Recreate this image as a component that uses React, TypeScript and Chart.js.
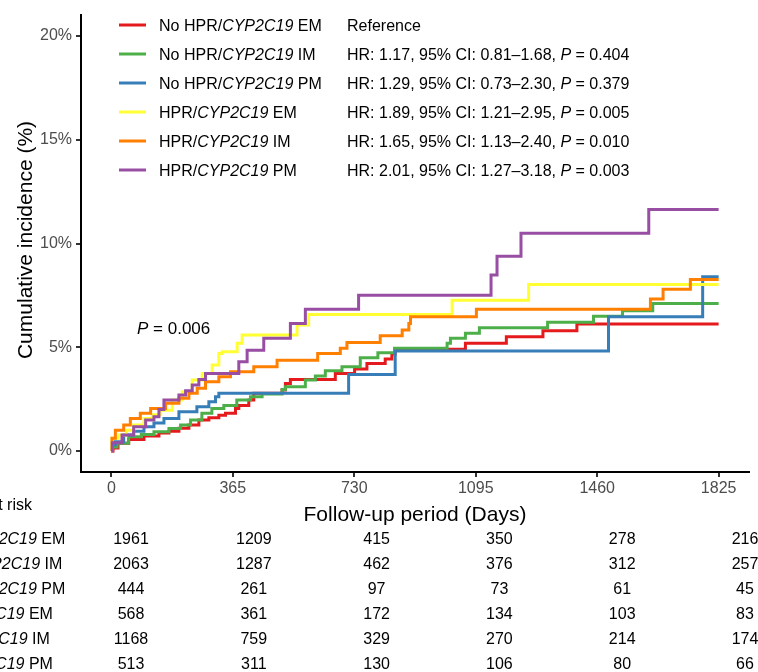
import React, { useEffect, useRef } from 'react';
import { Chart, registerables } from 'chart.js';

Chart.register(...registerables);

// ---------- data ----------
const groupNames = [
  'No HPR/CYP2C19 EM',
  'No HPR/CYP2C19 IM',
  'No HPR/CYP2C19 PM',
  'HPR/CYP2C19 EM',
  'HPR/CYP2C19 IM',
  'HPR/CYP2C19 PM',
];
const groupStats = [
  'Reference',
  'HR: 1.17, 95% CI: 0.81–1.68, P = 0.404',
  'HR: 1.29, 95% CI: 0.73–2.30, P = 0.379',
  'HR: 1.89, 95% CI: 1.21–2.95, P = 0.005',
  'HR: 1.65, 95% CI: 1.13–2.40, P = 0.010',
  'HR: 2.01, 95% CI: 1.27–3.18, P = 0.003',
];
const groupColors = ['#E41A1C', '#4DAF4A', '#377EB8', '#FFFF33', '#FF7F00', '#984EA3'];

const redDays = [0, 5, 20, 52, 98, 143, 173, 203, 233, 263, 293, 323, 343, 373, 383, 413, 428, 513, 523, 538, 673, 731, 768, 823, 843, 853, 1064, 1187, 1297, 1399, 1825];
const redPct = [0, 0.15, 0.38, 0.55, 0.72, 0.87, 0.95, 1.1, 1.25, 1.49, 1.6, 1.72, 1.82, 2.05, 2.2, 2.46, 2.78, 2.94, 3.26, 3.45, 3.74, 3.95, 4.22, 4.43, 4.67, 4.9, 5.19, 5.51, 5.8, 6.12, 6.12];

const greenDays = [0, 3, 17, 52, 90, 128, 173, 208, 238, 272, 302, 338, 377, 418, 453, 513, 523, 583, 613, 643, 693, 748, 801, 851, 1009, 1019, 1064, 1106, 1311, 1449, 1536, 1627, 1825];
const greenPct = [0, 0.2, 0.38, 0.69, 0.8, 0.93, 1.09, 1.25, 1.49, 1.82, 2.05, 2.2, 2.46, 2.62, 2.75, 2.97, 3.1, 3.42, 3.61, 3.87, 4.06, 4.5, 4.74, 4.95, 5.19, 5.43, 5.67, 5.94, 6.2, 6.5, 6.76, 7.11, 7.11];

const blueDays = [0, 3, 12, 37, 67, 98, 128, 158, 203, 257, 293, 313, 323, 713, 853, 1494, 1777, 1825];
const bluePct = [0, 0.3, 0.45, 0.77, 0.95, 1.17, 1.35, 1.57, 1.89, 2.13, 2.38, 2.62, 2.78, 3.69, 4.82, 6.47, 8.4, 8.4];

const yellowDays = [0, 2, 22, 45, 67, 98, 123, 148, 183, 213, 243, 273, 303, 323, 333, 378, 393, 558, 593, 1024, 1254, 1825];
const yellowPct = [0, 0.62, 0.77, 1.0, 1.25, 1.57, 1.75, 1.97, 2.46, 2.86, 3.42, 3.74, 4.14, 4.7, 4.78, 5.19, 5.59, 6.07, 6.58, 7.27, 8.03, 8.03];

const orangeDays = [0, 2, 12, 37, 57, 87, 118, 163, 203, 233, 258, 283, 323, 358, 428, 498, 620, 688, 708, 808, 874, 894, 899, 1097, 1620, 1658, 1740, 1825];
const orangePct = [0, 0.62, 1.0, 1.25, 1.57, 1.82, 2.05, 2.3, 2.54, 2.78, 3.02, 3.34, 3.58, 3.82, 4.06, 4.38, 4.7, 4.95, 5.23, 5.56, 5.83, 6.15, 6.47, 6.83, 7.32, 7.8, 8.27, 8.27];

const purpleDays = [0, 3, 32, 67, 103, 128, 143, 158, 203, 223, 243, 263, 283, 383, 408, 458, 538, 583, 743, 1141, 1159, 1231, 1615, 1825];
const purplePct = [0, 0.4, 0.77, 1.17, 1.49, 1.65, 2.0, 2.46, 2.7, 2.9, 3.18, 3.45, 3.74, 4.3, 4.86, 5.43, 6.15, 6.83, 7.51, 8.48, 9.39, 10.49, 11.64, 11.64];

const seriesDays = [redDays, greenDays, blueDays, yellowDays, orangeDays, purpleDays];
const seriesPct = [redPct, greenPct, bluePct, yellowPct, orangePct, purplePct];

const xTicks = [0, 365, 730, 1095, 1460, 1825];
const yTicks = [0, 5, 10, 15, 20];

const riskNoHprEM = [1961, 1209, 415, 350, 278, 216];
const riskNoHprIM = [2063, 1287, 462, 376, 312, 257];
const riskNoHprPM = [444, 261, 97, 73, 61, 45];
const riskHprEM = [568, 361, 172, 134, 103, 83];
const riskHprIM = [1168, 759, 329, 270, 214, 174];
const riskHprPM = [513, 311, 130, 106, 80, 66];
const riskRows = [riskNoHprEM, riskNoHprIM, riskNoHprPM, riskHprEM, riskHprIM, riskHprPM];

const pValueText = 'P = 0.006';
const xTitle = 'Follow-up period (Days)';
const yTitle = 'Cumulative incidence (%)';
const riskTitle = 'Number at risk';

// ---------- text helpers ----------
const FAMILY = '"Liberation Sans", Arial, Helvetica, sans-serif';
const fontStr = (size: number, italic: boolean) => `${italic ? 'italic ' : ''}${size}px ${FAMILY}`;

function segs(s: string): [string, boolean][] {
  const out: [string, boolean][] = [];
  const re = /(CYP2C19|P(?= =))/g;
  let last = 0;
  let m: RegExpExecArray | null;
  while ((m = re.exec(s))) {
    if (m.index > last) out.push([s.slice(last, m.index), false]);
    out.push([m[0], true]);
    last = m.index + m[0].length;
  }
  if (last < s.length) out.push([s.slice(last), false]);
  return out;
}

function drawRich(ctx: CanvasRenderingContext2D, s: string, x: number, y: number, size: number, align: string, color: string) {
  const parts = segs(s);
  let w = 0;
  for (const [t, it] of parts) {
    ctx.font = fontStr(size, it);
    w += ctx.measureText(t).width;
  }
  let cx = align === 'center' ? x - w / 2 : align === 'right' ? x - w : x;
  ctx.fillStyle = color;
  ctx.textAlign = 'left';
  ctx.textBaseline = 'alphabetic';
  for (const [t, it] of parts) {
    ctx.font = fontStr(size, it);
    ctx.fillText(t, cx, y);
    cx += ctx.measureText(t).width;
  }
}

const decorPlugin = {
  id: 'decor',
  afterDraw(chart: any) {
    const ctx: CanvasRenderingContext2D = chart.ctx;
    const area = chart.chartArea;
    ctx.save();
    // legend
    groupNames.forEach((name, i) => {
      const yc = 25 + 29 * i;
      ctx.strokeStyle = groupColors[i];
      ctx.lineWidth = 3;
      ctx.beginPath();
      ctx.moveTo(119, yc);
      ctx.lineTo(146, yc);
      ctx.stroke();
      drawRich(ctx, name, 159, yc + 5.7, 16, 'left', '#000');
      drawRich(ctx, groupStats[i], 347, yc + 5.7, 16, 'left', '#000');
    });
    // p-value
    drawRich(ctx, pValueText, 137, 334, 17, 'left', '#000');
    // axis titles
    drawRich(ctx, xTitle, (area.left + area.right) / 2, 521, 21, 'center', '#000');
    ctx.save();
    ctx.translate(32, 240);
    ctx.rotate(-Math.PI / 2);
    drawRich(ctx, yTitle, 0, 0, 21, 'center', '#000');
    ctx.restore();
    // risk table
    drawRich(ctx, riskTitle, 32, 510, 16, 'right', '#000');
    riskRows.forEach((row, i) => {
      const yb = 544 + 25 * i;
      drawRich(ctx, groupNames[i], -16, yb, 16, 'center', '#000');
      row.forEach((v, j) => {
        drawRich(ctx, String(v), 131 + 122.8 * j, yb, 16, 'center', '#000');
      });
    });
    ctx.restore();
  },
};

export default function App() {
  const ref = useRef<HTMLCanvasElement | null>(null);
  useEffect(() => {
    if (!ref.current) return;
    const datasets = seriesDays.map((days, i) => ({
      label: groupNames[i],
      data: days.map((d, k) => ({ x: d, y: seriesPct[i][k] })),
      borderColor: groupColors[i],
      backgroundColor: groupColors[i],
      borderWidth: 3,
      pointRadius: 0,
      fill: false,
      stepped: 'before' as const,
      order: 5 - i,
    }));
    const tickFont = { size: 16, family: FAMILY };
    const chart = new Chart(ref.current, {
      type: 'line',
      data: { datasets },
      options: {
        animation: false,
        responsive: false,
        devicePixelRatio: 1,
        layout: { padding: { top: 15, right: 9, left: 0, bottom: 0 } },
        plugins: { legend: { display: false }, tooltip: { enabled: false } },
        scales: {
          x: {
            type: 'linear',
            min: -91.25,
            max: 1916.25,
            afterBuildTicks: (s: any) => {
              s.ticks = xTicks.map((v) => ({ value: v }));
            },
            afterFit: (s: any) => {
              s.height = 200;
            },
            ticks: { color: '#4D4D4D', font: tickFont, padding: 2, maxRotation: 0, autoSkip: false, callback: (v: any) => String(v) },
            grid: { display: true, drawOnChartArea: false, drawTicks: true, tickLength: 5, color: '#333', lineWidth: 2 },
            border: { display: true, color: '#000', width: 2 },
          },
          y: {
            type: 'linear',
            min: -1.01,
            max: 21.01,
            afterBuildTicks: (s: any) => {
              s.ticks = yTicks.map((v) => ({ value: v }));
            },
            afterFit: (s: any) => {
              s.width = 81;
            },
            ticks: { color: '#4D4D4D', font: tickFont, padding: 4, callback: (v: any) => v + '%' },
            grid: { display: true, drawOnChartArea: false, drawTicks: true, tickLength: 5, color: '#333', lineWidth: 2 },
            border: { display: true, color: '#000', width: 2 },
          },
        },
      },
      plugins: [decorPlugin],
    });
    return () => chart.destroy();
  }, []);
  return (
    <div style={{ position: 'absolute', left: 0, top: 0, width: 758, height: 672, background: '#fff' }}>
      <canvas ref={ref} width={758} height={672} style={{ display: 'block' }} />
    </div>
  );
}
